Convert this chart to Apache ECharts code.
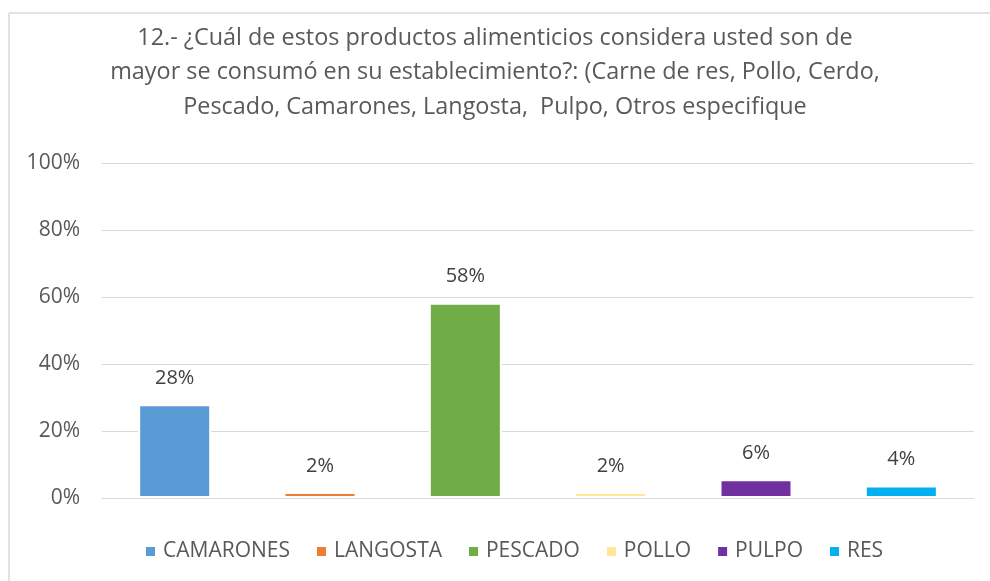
<!DOCTYPE html>
<html>
<head>
<meta charset="utf-8">
<script src="https://cdn.jsdelivr.net/npm/echarts@6/dist/echarts.min.js"></script>
<style>html,body{margin:0;padding:0;background:#fff}#c{width:990px;height:581px}</style>
</head>
<body>
<div id="c"></div>
<script>
const categories = ['CAMARONES', 'LANGOSTA', 'PESCADO', 'POLLO', 'PULPO', 'RES'];
const values = [28.0, 1.8, 58.3, 1.8, 5.6, 3.7];
const colors = ['#5B9BD5', '#ED7D31', '#70AD47', '#FFE699', '#7030A0', '#00B0F0'];
const yTicks = [0, 20, 40, 60, 80, 100];
const titleText = '12.- ¿Cuál de estos productos alimenticios considera usted son de\nmayor se consumó en su establecimiento?: (Carne de res, Pollo, Cerdo,\nPescado, Camarones, Langosta,  Pulpo, Otros especifique';

const FONT = '"Open Sans", sans-serif';
const series = categories.map((name, i) => ({
  name: name,
  type: 'bar',
  stack: 'all',
  barWidth: 73,
  data: categories.map((c, j) => (j === i ? values[i] : null)),
  itemStyle: { color: colors[i], borderColor: '#ffffff', borderWidth: 2 },
  label: {
    show: true,
    position: 'top',
    distance: 16,
    color: '#404040',
    fontFamily: FONT,
    fontSize: 20,
    formatter: p => Math.round(p.value) + '%'
  }
}));

const chart = echarts.init(document.getElementById('c'));
chart.setOption({
  animation: false,
  color: colors,
  title: {
    text: titleText,
    left: 'center',
    top: 16,
    textStyle: { fontFamily: FONT, fontSize: 23.4, fontWeight: 'normal', color: '#595959', lineHeight: 34.5 }
  },
  legend: {
    data: categories,
    left: 141,
    top: 536,
    icon: 'rect',
    itemWidth: 9,
    itemHeight: 9,
    itemGap: 27,
    itemStyle: { borderWidth: 0 },
    textStyle: { fontFamily: FONT, fontSize: 21, color: '#595959', padding: [0, 0, 0, 3] }
  },
  grid: { left: 102, right: 16, top: 163, bottom: 83, containLabel: false },
  xAxis: {
    type: 'category',
    data: categories,
    axisLine: { show: true, lineStyle: { color: '#d9d9d9', width: 1 } },
    axisTick: { show: false },
    axisLabel: { show: false }
  },
  yAxis: {
    type: 'value',
    min: yTicks[0],
    max: yTicks[yTicks.length - 1],
    interval: 20,
    axisLine: { show: false },
    axisTick: { show: false },
    splitLine: { lineStyle: { color: '#d9d9d9', width: 1 } },
    axisLabel: { formatter: '{value}%', margin: 22, color: '#595959', fontFamily: FONT, fontSize: 21 }
  },
  graphic: [
    { type: 'line', shape: { x1: 9, y1: 13, x2: 990, y2: 13 }, style: { stroke: '#d9d9d9', lineWidth: 1.5 } },
    { type: 'line', shape: { x1: 9, y1: 13, x2: 9, y2: 581 }, style: { stroke: '#d9d9d9', lineWidth: 1.5 } }
  ],
  series: series
});
</script>
</body>
</html>
